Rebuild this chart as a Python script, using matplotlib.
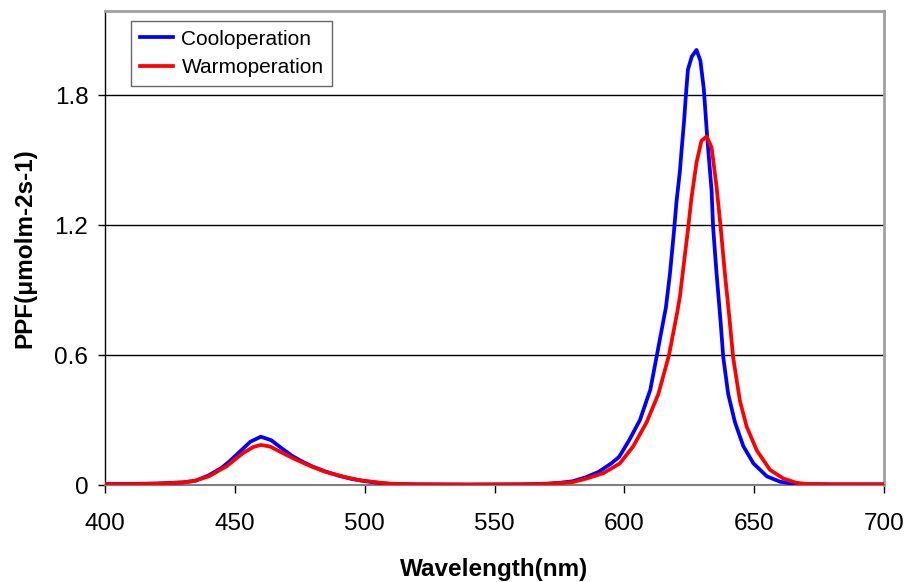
import matplotlib
matplotlib.use("Agg")
import matplotlib.pyplot as plt

# Cool operation spectrum
wl_cool = [400, 410, 420, 430, 435, 440, 445, 448, 452, 456, 460, 464, 468, 472, 476,
           480, 485, 490, 495, 500, 505, 510, 520, 540, 560, 570, 575, 580, 585, 590,
           595, 598, 602, 606, 610, 612.7, 616, 617.6, 619.1, 620.1, 621.4, 622, 623,
           623.7, 624.5, 626, 627.8, 629.3, 630.6, 631.9, 633.6, 634.2, 635.5, 637.1,
           638.1, 640, 642.6, 645.8, 649.7, 654.9, 660, 665, 670, 680, 690, 700]
ppf_cool = [0.005, 0.005, 0.007, 0.012, 0.02, 0.045, 0.08, 0.11, 0.155, 0.2, 0.223,
            0.207, 0.17, 0.135, 0.108, 0.085, 0.062, 0.043, 0.028, 0.018, 0.01, 0.005,
            0.003, 0.002, 0.003, 0.006, 0.01, 0.017, 0.035, 0.06, 0.1, 0.13, 0.21, 0.3,
            0.44, 0.61, 0.82, 0.98, 1.17, 1.31, 1.45, 1.54, 1.68, 1.8, 1.92, 1.98, 2.01,
            1.96, 1.83, 1.61, 1.36, 1.19, 0.98, 0.75, 0.59, 0.42, 0.29, 0.18, 0.10, 0.04,
            0.015, 0.006, 0.004, 0.003, 0.003, 0.003]

# Warm operation spectrum
wl_warm = [400, 410, 420, 430, 434, 440, 447, 453, 457, 460, 463.5, 467.4, 472.5, 479,
           485, 492, 498, 505, 510, 520, 540, 560, 570, 580, 585.5, 592, 598.3, 603.5,
           608.6, 613.1, 617.2, 620.4, 621.4, 623, 624.6, 625.9, 627.8, 629.7, 631.7,
           633.6, 635.5, 637.1, 638.7, 640.4, 641.9, 644.5, 647.1, 651, 656.1, 661.2,
           666.3, 670, 680, 700]
ppf_warm = [0.004, 0.004, 0.006, 0.012, 0.018, 0.04, 0.088, 0.146, 0.175, 0.185, 0.178,
            0.154, 0.123, 0.088, 0.06, 0.038, 0.022, 0.012, 0.006, 0.003, 0.002, 0.003,
            0.005, 0.013, 0.03, 0.055, 0.10, 0.18, 0.29, 0.42, 0.60, 0.80, 0.87, 1.03,
            1.19, 1.33, 1.49, 1.59, 1.61, 1.56, 1.38, 1.19, 0.98, 0.78, 0.59, 0.39, 0.27,
            0.16, 0.07, 0.03, 0.01, 0.005, 0.003, 0.003]

x_ticks = [400, 450, 500, 550, 600, 650, 700]
y_ticks = [0, 0.6, 1.2, 1.8]
y_tick_labels = ["0", "0.6", "1.2", "1.8"]

plt.rcParams['font.family'] = ['Liberation Sans', 'DejaVu Sans']

fig = plt.figure(figsize=(9.07, 5.82), dpi=100)
ax = fig.add_axes([105/907, 1 - 485/582, (884 - 105)/907, (485 - 11)/582])

for y in y_ticks[1:]:
    ax.axhline(y, color='black', lw=1.0, zorder=1)

ax.plot(wl_cool, ppf_cool, color='#0000FF', lw=2.7, label='Cooloperation', zorder=3)
ax.plot(wl_warm, ppf_warm, color='#FF0000', lw=2.7, label='Warmoperation', zorder=4)

ax.set_xlim(400, 700)
ax.set_ylim(0, 2.19)
ax.set_xticks(x_ticks)
ax.set_yticks(y_ticks)
ax.set_yticklabels(y_tick_labels)

ax.spines['left'].set_color('black')
ax.spines['left'].set_linewidth(1.0)
ax.spines['bottom'].set_color('#808080')
ax.spines['bottom'].set_linewidth(1.5)
for s in ['top', 'right']:
    ax.spines[s].set_color('#a0a0a0')
    ax.spines[s].set_linewidth(2.0)

ax.tick_params(axis='x', direction='out', length=6, width=1, color='black',
               labelsize=17.5, pad=14)
ax.tick_params(axis='y', direction='out', length=5, width=1, color='black',
               labelsize=17.5, pad=7)

ax.set_xlabel('Wavelength(nm)', fontsize=17.5, fontweight='bold', labelpad=17)
ax.set_ylabel('PPF(μmolm-2s-1)', fontsize=17.5, fontweight='bold', labelpad=13)

leg = ax.legend(loc='upper left', bbox_to_anchor=(131/907, 1 - 21/582),
                bbox_transform=fig.transFigure, fontsize=15, frameon=True,
                fancybox=False, handlelength=1.6, handletextpad=0.4,
                borderpad=0.42, labelspacing=0.45, borderaxespad=0)
leg.get_frame().set_edgecolor('#404040')
leg.get_frame().set_linewidth(1.0)

fig.savefig('out.png', dpi=100)
